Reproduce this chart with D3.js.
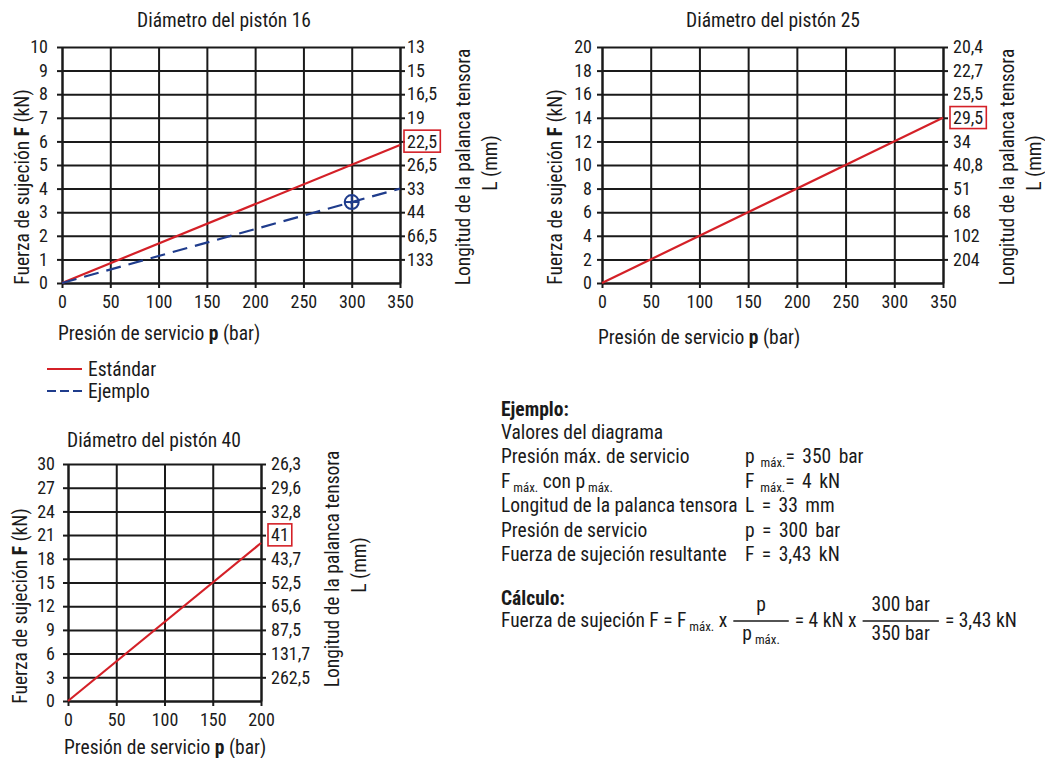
<!DOCTYPE html>
<html><head><meta charset="utf-8">
<script src="https://cdn.jsdelivr.net/npm/d3@7/dist/d3.min.js"></script>
<style>
body{margin:0;background:#fff}
text{font-family:"Liberation Sans Narrow","Arial Narrow","Roboto Condensed","Liberation Sans",Arial,sans-serif;fill:#1a1a1a}
</style>
</head><body>
<svg id="c" width="1045" height="758"></svg>
<script>
// ---------- DATA ----------
const pressureTicks350 = [0, 50, 100, 150, 200, 250, 300, 350];
const pressureTicks200 = [0, 50, 100, 150, 200];

// Piston 16
const forceTicks16 = [0, 1, 2, 3, 4, 5, 6, 7, 8, 9, 10];
const leverLabels16 = ["133", "66,5", "44", "33", "26,5", "22,5", "19", "16,5", "15", "13"]; // F = 1 .. 10
const highlight16 = "22,5";
const pressure16 = [0, 350];
const standard16 = [0, 5.85];
const example16 = [0, 4];
const exampleMarkerP = 300;
const exampleMarkerF = 3.43;

// Piston 25
const forceTicks25 = [0, 2, 4, 6, 8, 10, 12, 14, 16, 18, 20];
const leverLabels25 = ["204", "102", "68", "51", "40,8", "34", "29,5", "25,5", "22,7", "20,4"]; // F = 2 .. 20
const highlight25 = "29,5";
const pressure25 = [0, 350];
const standard25 = [0, 14];

// Piston 40
const forceTicks40 = [0, 3, 6, 9, 12, 15, 18, 21, 24, 27, 30];
const leverLabels40 = ["262,5", "131,7", "87,5", "65,6", "52,5", "43,7", "41", "32,8", "29,6", "26,3"]; // F = 3 .. 30
const highlight40 = "41";
const pressure40 = [0, 200];
const standard40 = [0, 20];

const titles = ["Diámetro del pistón 16", "Diámetro del pistón 25", "Diámetro del pistón 40"];
const legendLabels = ["Estándar", "Ejemplo"];

// ---------- STYLE ----------
const RED = "#d42027", BLUE = "#1f3c8c", GRID = "#1a1a1a";
const TICK_FS = 18, TITLE_FS = 19.5, PANEL_FS = 19.5;
const svg = d3.select("#c");

function richText(g, x, y, parts, size, anchor) {
  const t = g.append("text").attr("x", x).attr("y", y).attr("font-size", size)
    .attr("text-anchor", anchor || "start");
  parts.forEach(p => {
    const s = t.append("tspan").text(p.t);
    if (p.b) s.attr("font-weight", "bold");
    if (p.sub) s.attr("font-size", size * 0.66).attr("dy", 4);
    if (p.resub) s.attr("dy", -4);
  });
  return t;
}

function styleAxis(a) {
  a.select(".domain").attr("stroke", GRID).attr("stroke-width", 2);
  a.selectAll("line").attr("stroke", GRID).attr("stroke-width", 2);
  a.selectAll("text").attr("font-size", TICK_FS).attr("fill", "#1a1a1a").attr("font-family", null);
}

function drawChart(cfg) {
  const g = svg.append("g");
  const x = d3.scaleLinear().domain([0, cfg.xTicks[cfg.xTicks.length - 1]]).range([cfg.left, cfg.right]);
  const y = d3.scaleLinear().domain([0, cfg.yTicks[cfg.yTicks.length - 1]]).range([cfg.bottom, cfg.top]);
  const W = cfg.right - cfg.left, H = cfg.bottom - cfg.top;

  // grid
  g.append("g").attr("transform", `translate(${cfg.left},0)`)
    .call(d3.axisLeft(y).tickValues(cfg.yTicks).tickSize(-W).tickFormat(""))
    .call(a => a.select(".domain").remove())
    .selectAll("line").attr("stroke", GRID).attr("stroke-width", 2);
  g.append("g").attr("transform", `translate(0,${cfg.bottom})`)
    .call(d3.axisBottom(x).tickValues(cfg.xTicks).tickSize(-H).tickFormat(""))
    .call(a => a.select(".domain").remove())
    .selectAll("line").attr("stroke", GRID).attr("stroke-width", 2);

  // left axis
  const la = g.append("g").attr("transform", `translate(${cfg.left},0)`)
    .call(d3.axisLeft(y).tickValues(cfg.yTicks).tickSize(5).tickPadding(cfg.lpad).tickSizeOuter(0));
  styleAxis(la);

  // bottom axis
  const ba = g.append("g").attr("transform", `translate(0,${cfg.bottom})`)
    .call(d3.axisBottom(x).tickValues(cfg.xTicks).tickSize(5).tickPadding(7).tickSizeOuter(0));
  styleAxis(ba);

  // right axis
  const rTicks = cfg.yTicks.slice(1);
  const ra = g.append("g").attr("transform", `translate(${cfg.right},0)`)
    .call(d3.axisRight(y).tickValues(rTicks).tickSize(5).tickPadding(cfg.rpad).tickSizeOuter(0)
      .tickFormat((d, i) => cfg.rLabels[i]));
  styleAxis(ra);
  ra.selectAll(".tick").each(function (d, i) {
    if (cfg.rLabels[i] === cfg.highlight) {
      const tx = d3.select(this).select("text").node();
      const bb = tx.getBBox();
      d3.select(this).append("rect")
        .attr("x", bb.x - 3).attr("y", bb.y - 0.5).attr("width", bb.width + 6).attr("height", bb.height + 1)
        .attr("fill", "none").attr("stroke", RED).attr("stroke-width", 1.6);
    }
  });

  // series
  const line = d3.line().x(d => x(d[0])).y(d => y(d[1]));
  cfg.series.forEach(s => {
    g.append("path").datum(d3.zip(s.p, s.f)).attr("d", line)
      .attr("fill", "none").attr("stroke", s.color).attr("stroke-width", 2.2)
      .attr("stroke-dasharray", s.dash || null);
  });
  if (cfg.marker) {
    const cx = x(cfg.marker[0]), cy = y(cfg.marker[1]), r = 7;
    g.append("circle").attr("cx", cx).attr("cy", cy).attr("r", r)
      .attr("fill", "none").attr("stroke", BLUE).attr("stroke-width", 2);
    g.append("line").attr("x1", cx - r).attr("x2", cx + r).attr("y1", cy).attr("y2", cy)
      .attr("stroke", BLUE).attr("stroke-width", 2);
    g.append("line").attr("x1", cx).attr("x2", cx).attr("y1", cy - r).attr("y2", cy + r)
      .attr("stroke", BLUE).attr("stroke-width", 2);
  }

  // titles
  g.append("text").attr("x", cfg.titleX).attr("y", cfg.titleY).attr("font-size", TITLE_FS)
    .attr("text-anchor", cfg.titleAnchor).text(cfg.title);
  richText(g, cfg.left - 4, cfg.xTitleY, [{t: "Presión de servicio "}, {t: "p", b: 1}, {t: " (bar)"}], TITLE_FS);
  const yt = richText(g, 0, 0, [{t: "Fuerza de sujeción "}, {t: "F", b: 1}, {t: " (kN)"}], TITLE_FS, "middle");
  yt.attr("transform", `translate(${cfg.yTitleX},${cfg.yTitleY}) rotate(-90)`);
  g.append("text").attr("font-size", TITLE_FS).attr("text-anchor", "middle")
    .attr("transform", `translate(${cfg.rTitleX},${cfg.rTitleY}) rotate(-90)`)
    .text("Longitud de la palanca tensora");
  g.append("text").attr("font-size", TITLE_FS).attr("text-anchor", "middle")
    .attr("transform", `translate(${cfg.rTitleX + 27},${cfg.rTitleY - 4}) rotate(-90)`)
    .text("L (mm)");
}

drawChart({
  left: 62, right: 400, top: 47, bottom: 283, lpad: 9, rpad: 2,
  xTicks: pressureTicks350, yTicks: forceTicks16, rLabels: leverLabels16, highlight: highlight16,
  series: [{p: pressure16, f: standard16, color: RED}, {p: pressure16, f: example16, color: BLUE, dash: "15,8"}],
  marker: [exampleMarkerP, exampleMarkerF],
  title: titles[0], titleX: 224, titleY: 27, titleAnchor: "middle", xTitleY: 340,
  yTitleX: 29, yTitleY: 187, rTitleX: 470, rTitleY: 167
});
drawChart({
  left: 602, right: 943, top: 47, bottom: 283, lpad: 5, rpad: 5,
  xTicks: pressureTicks350, yTicks: forceTicks25, rLabels: leverLabels25, highlight: highlight25,
  series: [{p: pressure25, f: standard25, color: RED}],
  title: titles[1], titleX: 773, titleY: 27, titleAnchor: "middle", xTitleY: 344,
  yTitleX: 562, yTitleY: 187, rTitleX: 1014, rTitleY: 167
});
drawChart({
  left: 68, right: 261, top: 464, bottom: 701, lpad: 8, rpad: 5,
  xTicks: pressureTicks200, yTicks: forceTicks40, rLabels: leverLabels40, highlight: highlight40,
  series: [{p: pressure40, f: standard40, color: RED}],
  title: titles[2], titleX: 67, titleY: 447, titleAnchor: "start", xTitleY: 754,
  yTitleX: 27, yTitleY: 606, rTitleX: 339, rTitleY: 569
});

// legend
const lg = svg.append("g");
[[RED, null, 369], [BLUE, "9,4", 391]].forEach((d, i) => {
  lg.append("line").attr("x1", 47).attr("x2", 82).attr("y1", d[2]).attr("y2", d[2])
    .attr("stroke", d[0]).attr("stroke-width", 2).attr("stroke-dasharray", d[1]);
  lg.append("text").attr("x", 88).attr("y", d[2] + 7).attr("font-size", TITLE_FS).text(legendLabels[i]);
});

// example panel
const ep = svg.append("g");
const FS = PANEL_FS;
richText(ep, 501, 416, [{t: "Ejemplo:", b: 1}], FS);
const rows = [
  [[{t: "Valores del diagrama"}], []],
  [[{t: "Presión máx. de servicio"}], [{t: "p"}, {t: " máx.", sub: 1}, {t: "= 350 bar", resub: 1}]],
  [[{t: "F"}, {t: " máx.", sub: 1}, {t: " con p", resub: 1}, {t: " máx.", sub: 1}], [{t: "F"}, {t: " máx.", sub: 1}, {t: "= 4 kN", resub: 1}]],
  [[{t: "Longitud de la palanca tensora"}], [{t: "L = 33 mm"}]],
  [[{t: "Presión de servicio"}], [{t: "p = 300 bar"}]],
  [[{t: "Fuerza de sujeción resultante"}], [{t: "F = 3,43 kN"}]]
];
rows.forEach((r, i) => {
  const yy = 439 + i * 24.4;
  richText(ep, 501, yy, r[0], FS);
  if (r[1].length) richText(ep, 745, yy, r[1], FS).attr("word-spacing", 3);
});
richText(ep, 501, 605, [{t: "Cálculo:", b: 1}], FS);

// formula with fractions
const fy = 627;
let cx = 501;
function piece(parts) {
  const t = richText(ep, cx, fy, parts, FS);
  cx += t.node().getComputedTextLength();
  return t;
}
function fraction(num, den) {
  cx += 6;
  const a = richText(ep, 0, fy - 16, num, FS, "middle");
  const b = richText(ep, 0, fy + 13, den, FS, "middle");
  const w = Math.max(a.node().getComputedTextLength(), b.node().getComputedTextLength()) + 18;
  a.attr("x", cx + w / 2); b.attr("x", cx + w / 2);
  ep.append("line").attr("x1", cx).attr("x2", cx + w).attr("y1", fy - 6).attr("y2", fy - 6)
    .attr("stroke", "#1a1a1a").attr("stroke-width", 1.3);
  cx += w + 6;
}
piece([{t: "Fuerza de sujeción F = F"}, {t: " máx.", sub: 1}, {t: " x", resub: 1}]);
fraction([{t: "p"}], [{t: "p"}, {t: " máx.", sub: 1}]);
piece([{t: "= 4 kN x"}]);
fraction([{t: "300 bar"}], [{t: "350 bar"}]);
piece([{t: "= 3,43 kN"}]);
</script>
</body></html>
